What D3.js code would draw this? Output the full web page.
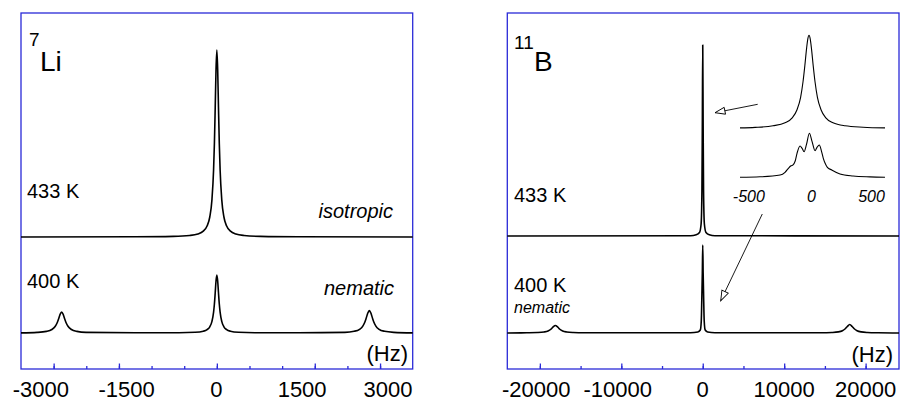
<!DOCTYPE html>
<html>
<head>
<meta charset="utf-8">
<script src="https://cdn.jsdelivr.net/npm/d3@7"></script>
<style>
  body { margin: 0; background: #fff; }
  text { font-family: "Liberation Sans", Arial, sans-serif; fill: #000; }
</style>
</head>
<body>
<script>
// SVG size
const width = 907;
const height = 402;

// 7Li spectra: [frequency Hz, intensity above baseline]
const li433 = [[-3600,0],[-1500,0.2],[-800,0.6],[-500,1.5],[-350,3.0],[-250,5.9],[-180,11],[-130,20],[-90,37.4],[-60,67.3],[-45,93.5],[-30,129.5],[-15,168],[0,187],
  [15,168],[30,129.5],[45,93.5],[60,67.3],[90,37.4],[130,20],[180,11],[250,5.9],[350,3.0],[500,1.5],[800,0.6],[1500,0.2],[3600,0]];
const li400 = [[-3600,0.1],[-3303,0.6],[-3133,1.6],[-3033,3.5],[-2973,6.5],[-2933,10.5],[-2913,13.4],[-2883,18.4],[-2853,21],[-2823,18.4],[-2793,13.4],[-2773,10.5],[-2733,6.5],[-2673,3.5],[-2573,1.6],[-2403,0.6],
  [-1500,0.2],[-700,0.25],[-400,0.7],[-250,1.8],[-180,3.4],[-130,6.2],[-90,11.6],[-60,20.9],[-45,29],[-30,40.2],[-15,52.2],[0,58],
  [15,52.2],[30,40.2],[45,29],[60,20.9],[90,11.6],[130,6.2],[180,3.4],[250,1.8],[400,0.7],[700,0.25],[1500,0.2],
  [2353,0.65],[2523,1.7],[2623,3.7],[2683,6.9],[2723,11.25],[2743,14.4],[2773,19.7],[2803,22.5],[2833,19.7],[2863,14.4],[2883,11.25],[2923,6.9],[2983,3.7],[3083,1.7],[3253,0.65],[3600,0.1]];

// 11B spectra
const b433 = [[-24000,0],[-1500,0.3],[-800,1.2],[-400,3.5],[-200,12],[-100,45],[-50,110],[0,191],[50,110],[100,45],[200,12],[400,3.5],[800,1.2],[1500,0.3],[24100,0]];
const b400 = [[-24000,0],[-21600,0.18],[-20300,0.44],[-19500,1.0],[-19000,2.0],[-18650,3.75],[-18400,5.8],[-18100,7.5],[-17800,5.8],[-17550,3.75],[-17200,2.0],[-16700,1.0],[-15900,0.44],[-14600,0.18],
  [-1500,0.3],[-600,1],[-300,3],[-180,12],[-100,40],[-50,60],[0,88],[50,60],[100,40],[180,12],[300,3],[600,1],[1500,0.3],
  [14550,0.2],[15850,0.5],[16650,1.1],[17150,2.3],[17500,4.25],[17750,6.5],[18050,8.5],[18350,6.5],[18600,4.25],[18950,2.3],[19450,1.1],[20250,0.5],[21550,0.2],[24100,0]];

// 11B inset (expanded central line)
const bInsetTop = [[-596,0.4],[-470,0.9],[-321,2.5],[-221,5.5],[-161,10.5],[-121,18.6],[-91,31],[-71,46.5],[-56,62.4],[-41,80.2],[-31,89.4],[-21,93],
  [-11,89.4],[-1,80.2],[14,62.4],[29,46.5],[49,31],[79,18.6],[119,10.5],[179,5.5],[279,2.5],[429,1.1],[612,0.4]];
const bInsetBottom = [[-596,0],[-429,0.5],[-262,2.3],[-221,5],[-193,9],[-171,11.5],[-154,12.5],[-137,16],[-121,24],[-96,31.3],[-79,29],[-62,25.6],[-42,33],[-18,44],
  [4,36],[29,26.6],[46,30],[65,32.3],[83,26],[98,19],[117,13],[132,10],[168,7.3],[237,3.3],[346,1.3],[487,0.4],[612,0]];

// ticks and labels
const liTicks = [-3000,-2400,-1800,-1200,-600,0,600,1200,1800,2400,3000];
const liMajor = [-3000,-1800,0,1800,3000];
const liLabels = [-3000,-1500,0,1500,3000];
const bTicks = [-20000,-15000,-10000,-5000,0,5000,10000,15000,20000];
const bMajor = [-20000,-10000,0,10000,20000];
const insetLabels = [-500,0,500];

const blue = "#2a2ad8";

const svg = d3.select("body").append("svg")
  .attr("width", width)
  .attr("height", height);

// shared vertical scale (one unit per pixel)
const y = d3.scaleLinear().domain([0, 356]).range([369, 13]);

// X scales
const xLi = d3.scaleLinear().domain([-3600, 3600]).range([21, 412.7]);
const xLiLabel = d3.scaleLinear().domain([-3000, 3000]).range([44.5, 388]);
const xB = d3.scaleLinear().domain([-24000, 24100]).range([507.3, 899]);
const xInset = d3.scaleLinear().domain([-596, 612]).range([740, 885]);

function spectrum(data, x, offset, sw) {
  const line = d3.line()
    .x(d => x(d[0]))
    .y(d => y(d[1] + offset))
    .curve(d3.curveMonotoneX);
  svg.append("path")
    .datum(data)
    .attr("d", line)
    .attr("fill", "none")
    .attr("stroke", "#000")
    .attr("stroke-width", sw)
    .attr("stroke-linejoin", "round");
}

function frame(x, ticks, major) {
  const [x0, x1] = x.range();
  svg.append("rect")
    .attr("x", x0).attr("y", y(356))
    .attr("width", x1 - x0).attr("height", y(0) - y(356))
    .attr("fill", "none")
    .attr("stroke", blue)
    .attr("stroke-width", 1.3);

  // minor ticks
  svg.append("g")
    .attr("transform", `translate(0,${y(0)})`)
    .call(d3.axisBottom(x).tickValues(ticks).tickSize(-3).tickFormat(""))
    .call(g => g.select(".domain").remove())
    .selectAll("line").attr("stroke", blue).attr("stroke-width", 1.3);

  // major ticks
  svg.append("g")
    .attr("transform", `translate(0,${y(0)})`)
    .call(d3.axisBottom(x).tickValues(major).tickSize(-5.5).tickFormat(""))
    .call(g => g.select(".domain").remove())
    .selectAll("line").attr("stroke", blue).attr("stroke-width", 1.3);
}

function tickLabels(values, x, yPos, size, italic) {
  svg.append("g").selectAll("text")
    .data(values)
    .enter()
    .append("text")
    .attr("x", d => x(d) - (d < 0 ? size * 0.167 : 0))
    .attr("y", yPos)
    .attr("text-anchor", "middle")
    .style("font-size", size + "px")
    .style("font-style", italic ? "italic" : "normal")
    .text(d => d);
}

function label(txt, x, yPos, size, opts = {}) {
  svg.append("text")
    .attr("x", x)
    .attr("y", yPos)
    .attr("text-anchor", opts.anchor || "start")
    .style("font-size", size + "px")
    .style("font-style", opts.italic ? "italic" : "normal")
    .text(txt);
}

// ---- left panel: 7Li ----
frame(xLi, liTicks, liMajor);
spectrum(li433, xLi, 132, 1.6);
spectrum(li400, xLi, 36, 1.6);
tickLabels(liLabels, xLiLabel, 397, 22, false);

label("7", 29, 46, 19);
label("Li", 40, 71, 28);
label("433 K", 27, 198, 20);
label("400 K", 27, 288, 20);
label("isotropic", 393, 218, 20, {anchor: "end", italic: true});
label("nematic", 394, 295, 20, {anchor: "end", italic: true});
label("(Hz)", 408, 361, 22, {anchor: "end"});

// ---- right panel: 11B ----
frame(xB, bTicks, bMajor);
spectrum(b433, xB, 133, 1.6);
spectrum(b400, xB, 36, 1.6);
tickLabels(bMajor, xB, 397, 22, false);

label("11", 514, 49, 19);
label("B", 534, 71, 28);
label("433 K", 514, 202, 20);
label("400 K", 514, 292, 20);
label("nematic", 514, 313, 16, {italic: true});
label("(Hz)", 893, 362, 22, {anchor: "end"});

// inset
spectrum(bInsetTop, xInset, 240.7, 1.1);
spectrum(bInsetBottom, xInset, 191.7, 1.1);
tickLabels(insetLabels, xInset, 201.7, 16, true);

// arrows pointing from the inset to the central lines
const arrows = [
  {from: [6748, 264.7], to: [1509, 256.3]},
  {from: [7313, 155], to: [2209, 68.3]}
];

svg.append("defs").append("marker")
  .attr("id", "head")
  .attr("markerUnits", "userSpaceOnUse")
  .attr("markerWidth", 14).attr("markerHeight", 10)
  .attr("refX", 11).attr("refY", 4)
  .attr("orient", "auto")
  .append("path")
  .attr("d", "M1,0.5 L11,4 L1,7.5 Z")
  .attr("fill", "#fff")
  .attr("stroke", "#000")
  .attr("stroke-width", 0.9);

svg.selectAll(".arrow")
  .data(arrows)
  .enter()
  .append("line")
  .attr("class", "arrow")
  .attr("x1", d => xB(d.from[0]))
  .attr("y1", d => y(d.from[1]))
  .attr("x2", d => xB(d.to[0]))
  .attr("y2", d => y(d.to[1]))
  .attr("stroke", "#000")
  .attr("stroke-width", 0.9)
  .attr("marker-end", "url(#head)");
</script>
</body>
</html>
